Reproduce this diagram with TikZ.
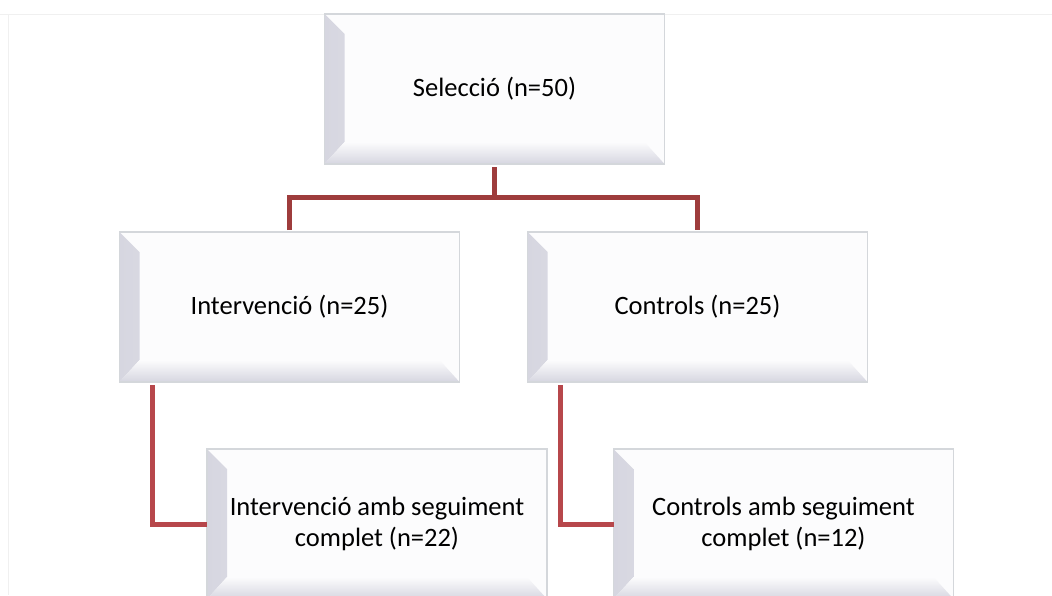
\documentclass[tikz,border=0pt]{standalone}
\usepackage{fontspec}
\setmainfont{Carlito}
\usepackage{tikz}
\usetikzlibrary{positioning,calc}

\definecolor{boxface}{HTML}{FCFCFD}
\definecolor{boxedge}{HTML}{D4D7DB}
\definecolor{boxbevel}{HTML}{D6D6E0}
\definecolor{linktop}{HTML}{9E3C3C}
\definecolor{linkbottom}{HTML}{B7474B}
\definecolor{frameline}{HTML}{F0F0F0}

\begin{document}
\begin{tikzpicture}[node distance=68pt, auto,
    stage/.style={rectangle, draw=boxedge, line width=1.5pt, fill=boxface, align=center,
        minimum width=340pt, minimum height=150pt, inner sep=0pt, outer sep=0pt,
        font=\fontsize{26.5pt}{31pt}\selectfont,
        path picture={
            \shade[left color=boxbevel, right color=boxface]
                (path picture bounding box.north west) -- ++(20pt,-20pt)
                -- ([shift={(20pt,22pt)}]path picture bounding box.south west)
                -- (path picture bounding box.south west) -- cycle;
            \shade[top color=boxface, bottom color=boxbevel]
                (path picture bounding box.south west) -- ++(20pt,22pt)
                -- ([shift={(-20pt,22pt)}]path picture bounding box.south east)
                -- (path picture bounding box.south east) -- cycle;
        }},
    branch/.style={draw=linktop, line width=5pt},
    followup/.style={draw=linkbottom, line width=5pt}]
    \useasboundingbox (0,0) rectangle (1052pt,-595pt);
    % faint page frame
    \draw[frameline, line width=1pt] (0,-14pt) -- (1052pt,-14pt);
    \draw[frameline, line width=1pt] (8pt,-14pt) -- (8pt,-595pt);

    \node[stage] (sel) at (494.5pt,-89pt) {Selecció (n=50)};
    \node[stage, below=68pt of sel, xshift=-205pt] (interv) {Intervenció (n=25)};
    \node[stage, right=68pt of interv] (ctrl) {Controls (n=25)};
    \node[stage, below=67pt of interv, xshift=87.5pt] (intseg) {Intervenció amb seguiment\\complet (n=22)};
    \node[stage, below=67pt of ctrl, xshift=86pt] (ctrlseg) {Controls amb seguiment\\complet (n=12)};

    \draw[branch] ([yshift=2pt]interv.north) -- ++(0,33pt) coordinate (split) -| ([yshift=2pt]ctrl.north);
    \draw[branch] ([yshift=-3pt]sel.south) -- (sel.south |- split);

    \draw[followup] ([shift={(33pt,-3pt)}]interv.south west) |- (intseg.west);
    \draw[followup] ([shift={(33pt,-3pt)}]ctrl.south west) |- (ctrlseg.west);
\end{tikzpicture}
\end{document}
